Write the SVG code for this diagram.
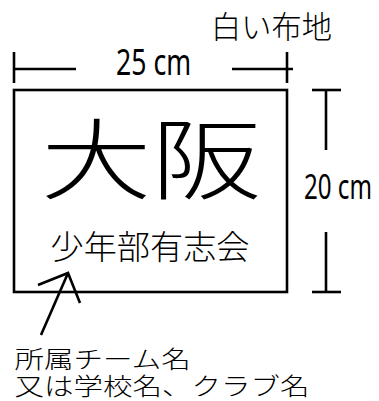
<svg xmlns="http://www.w3.org/2000/svg" width="379" height="401" viewBox="0 0 379 401">
<style>
.ln{stroke:#000;stroke-width:2.6;fill:none;stroke-linecap:butt}
.jp{font-family:"Noto Sans CJK JP","Noto Sans",sans-serif;font-weight:300;fill:#000}
.note{font-family:"Liberation Sans","Noto Sans CJK JP",sans-serif;font-weight:300;fill:#000}
.num{font-family:"Noto Sans","Noto Sans CJK JP",sans-serif;fill:#000}
</style>
<rect width="379" height="401" fill="#fff"/>
<g id="label-cloth">
<text class="jp" x="211" y="38" font-size="31" textLength="121" lengthAdjust="spacingAndGlyphs">白い布地</text>
</g>
<g id="dim-width">
<line class="ln" x1="14" y1="52" x2="14" y2="83"/>
<line class="ln" x1="14" y1="69" x2="76" y2="69"/>
<line class="ln" x1="232" y1="69" x2="293" y2="69"/>
<line class="ln" x1="287" y1="52" x2="287" y2="83"/>
<text class="num" transform="translate(116,75) scale(0.74,1)" font-size="36">25 cm</text>
</g>
<g id="cloth">
<rect class="ln" x="14" y="90" width="273" height="202"/>
<text class="jp" x="41" y="192" font-size="88" textLength="221" lengthAdjust="spacingAndGlyphs">大阪</text>
<text class="jp" x="50.5" y="259" font-size="33" textLength="199" lengthAdjust="spacingAndGlyphs">少年部有志会</text>
</g>
<g id="dim-height">
<line class="ln" x1="312" y1="90" x2="341" y2="90"/>
<line class="ln" x1="326" y1="90" x2="326" y2="150"/>
<line class="ln" x1="326" y1="232" x2="326" y2="292"/>
<line class="ln" x1="312" y1="292" x2="341" y2="292"/>
<text class="num" transform="translate(304,199) scale(0.71,1)" font-size="34">20 cm</text>
</g>
<g id="connectors">
<line class="ln" x1="41" y1="335" x2="68" y2="273"/>
<polyline class="ln" points="38,285 68,273 80,303"/>
</g>
<g id="note">
<text class="note" transform="translate(14.5,0) scale(1.23,1)" font-size="24"><tspan x="0" y="368">所属チーム名</tspan><tspan x="0" y="395.5">又は学校名、クラブ名</tspan></text>
</g>
</svg>
